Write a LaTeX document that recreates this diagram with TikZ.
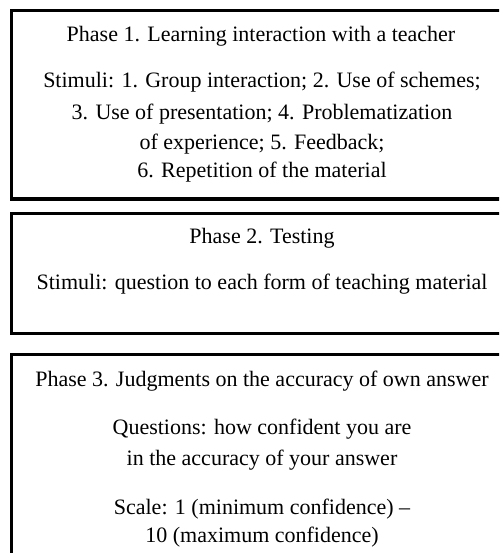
\documentclass[tikz,border=0pt]{standalone}
\usepackage{fontspec}
\setmainfont{Liberation Serif}
\usepackage{tikz}

\begin{document}
\begin{tikzpicture}[x=1pt,y=-1pt,
  phasebox/.style={line width=3pt},
  txt/.style={anchor=base,inner sep=0pt,font=\fontsize{22}{26}\selectfont}]
\useasboundingbox (0,0) rectangle (499,553);
\clip (0,0) rectangle (499,553);
% phase 1
\draw[phasebox] (11.5,11) rectangle (512,199);
\node[txt] (pa) at (261,42) {Phase 1. Learning interaction with a teacher};
\node[txt] (pa1) at (262,88) {Stimuli: 1. Group interaction; 2. Use of schemes;};
\node[txt] (pa2) at (262,120) {3. Use of presentation; 4. Problematization};
\node[txt] (pa3) at (262,150) {of experience; 5. Feedback;};
\node[txt] (pa4) at (262,178) {6. Repetition of the material};
% phase 2
\draw[phasebox] (11.5,213.5) rectangle (512,333.5);
\node[txt] (pb) at (262,243) {Phase 2. Testing};
\node[txt] (pb1) at (262,289) {Stimuli: question to each form of teaching material};
% phase 3
\draw[phasebox] (11.5,354) rectangle (512,600);
\node[txt] (pc) at (262,386) {Phase 3. Judgments on the accuracy of own answer};
\node[txt] (pc1) at (262,434) {Questions: how confident you are};
\node[txt] (pc2) at (262,465) {in the accuracy of your answer};
\node[txt] (pc3) at (262,514) {Scale: 1 (minimum confidence) --};
\node[txt] (pc4) at (262,542) {10 (maximum confidence)};
\end{tikzpicture}
\end{document}
